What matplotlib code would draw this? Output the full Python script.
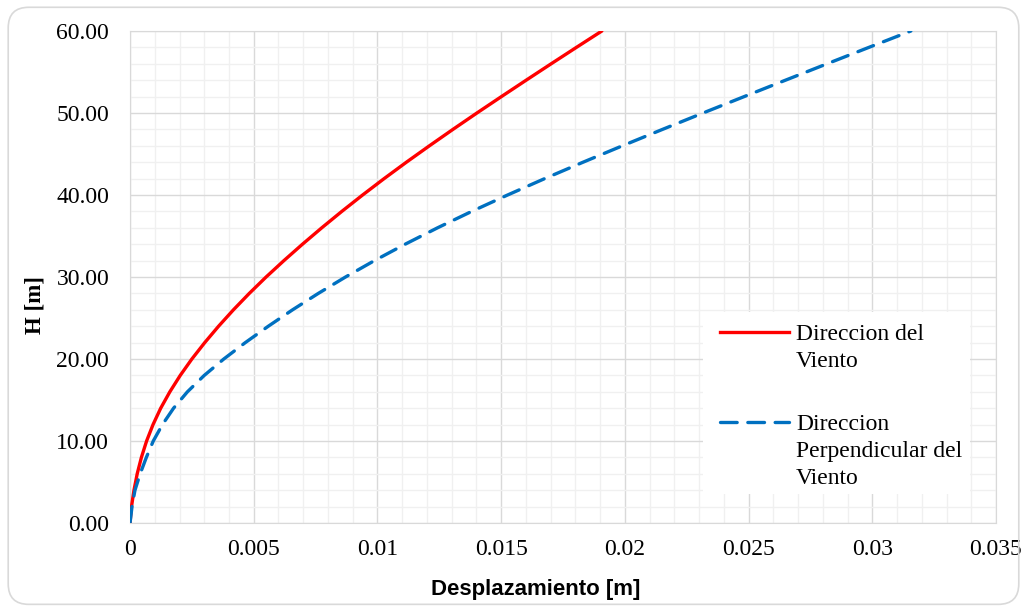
import numpy as np
import matplotlib.pyplot as plt
from matplotlib.patches import FancyBboxPatch, Rectangle
from matplotlib.lines import Line2D
from matplotlib.ticker import MultipleLocator

# alturas [m] y desplazamientos [m]
H = [0, 2, 4, 6, 8, 10, 12, 14, 16, 18, 20, 22, 24, 26, 28, 30,
     32, 34, 36, 38, 40, 42, 44, 46, 48, 50, 52, 54, 56, 58, 60]
d_viento = [0, 0.00006, 0.00016, 0.00029, 0.00046, 0.00067, 0.00093, 0.00124,
            0.00161, 0.00203, 0.0025, 0.00302, 0.00358, 0.00418, 0.00482,
            0.0055, 0.00622, 0.00697, 0.00775, 0.00856, 0.0094, 0.01027,
            0.01117, 0.0121, 0.01305, 0.01402, 0.01501, 0.01601, 0.01702,
            0.01804, 0.01907]
d_perp = [0, 0.00008, 0.0002, 0.00041, 0.00066, 0.00094, 0.00131, 0.00176,
          0.00232, 0.003, 0.00379, 0.00466, 0.00559, 0.00657, 0.00761,
          0.00871, 0.00988, 0.01112, 0.01243, 0.01381, 0.01526, 0.01676,
          0.01831, 0.0199, 0.02152, 0.02316, 0.02482, 0.02649, 0.02817,
          0.02986, 0.03156]

x_ticks = [0, 0.005, 0.01, 0.015, 0.02, 0.025, 0.03, 0.035]
x_labels = ['0', '0.005', '0.01', '0.015', '0.02', '0.025', '0.03', '0.035']
lbl_viento = 'Direccion del\nViento'
lbl_perp = 'Direccion\nPerpendicular del\nViento'

serif = 'Liberation Serif'
red = '#ff0000'
blue = '#0070c0'

fig = plt.figure(figsize=(10.27, 6.08), dpi=100)
fig.patches.append(FancyBboxPatch((0.008, 0.006), 0.984, 0.982,
                                  boxstyle='round,pad=0,rounding_size=0.02',
                                  transform=fig.transFigure, facecolor='none',
                                  edgecolor='#d9d9d9', linewidth=1.2,
                                  mutation_aspect=1027 / 608))
ax = fig.add_axes([0.1266, 0.1398, 0.8432, 0.8092])
ax.set_facecolor('none')

ax.plot(d_viento, H, color=red, linewidth=2.4, solid_capstyle='round',
        solid_joinstyle='round', zorder=3)
ax.plot(d_perp, H, color=blue, linewidth=2.4, linestyle=(0, (5, 3.2)),
        dash_capstyle='round', zorder=3)

ax.set_xlim(0, 0.035)
ax.set_ylim(0, 60)
ax.set_xticks(x_ticks)
ax.set_xticklabels(x_labels)
ax.yaxis.set_major_locator(MultipleLocator(10))
ax.yaxis.set_major_formatter('{x:.2f}')
ax.xaxis.set_minor_locator(MultipleLocator(0.001))
ax.yaxis.set_minor_locator(MultipleLocator(2))
ax.grid(which='major', color='#d9d9d9', linewidth=1.0)
ax.grid(which='minor', color='#f0f0f0', linewidth=1.0)
ax.set_axisbelow(True)
ax.tick_params(which='both', length=0, labelsize=17)
ax.tick_params(axis='x', pad=11.5)
ax.tick_params(axis='y', pad=15)
for t in ax.get_xticklabels() + ax.get_yticklabels():
    t.set_fontfamily(serif)
for s in ax.spines.values():
    s.set_color('#d9d9d9')

ax.set_xlabel('Desplazamiento [m]', fontfamily='Liberation Sans',
              fontweight='bold', fontsize=16, va='center')
ax.xaxis.set_label_coords(0.4688, -0.136)
ax.set_ylabel('H [m]', fontfamily=serif, fontweight='bold', fontsize=16.5,
              va='center')
ax.yaxis.set_label_coords(-0.1097, 0.443)

# leyenda dibujada a mano (linea alineada con la primera fila del texto)
ax.add_patch(Rectangle((0.6617, 0.059), 0.308, 0.37, transform=ax.transAxes,
                       facecolor='white', edgecolor='none', zorder=4))
ax.add_line(Line2D([0.6813, 0.7611], [0.3882, 0.3882], transform=ax.transAxes,
                   color=red, linewidth=2.4, zorder=5))
ax.add_line(Line2D([0.6813, 0.7611], [0.2043, 0.2043], transform=ax.transAxes,
                   color=blue, linewidth=2.4, linestyle=(0, (5, 3.2)),
                   dash_capstyle='round', zorder=5))
ax.text(0.769, 0.4045, lbl_viento, transform=ax.transAxes, fontfamily=serif,
        fontsize=17, va='top', ha='left', linespacing=1.38, zorder=5)
ax.text(0.769, 0.2215, lbl_perp, transform=ax.transAxes, fontfamily=serif,
        fontsize=17, va='top', ha='left', linespacing=1.38, zorder=5)

fig.savefig('out.png', dpi=100)
